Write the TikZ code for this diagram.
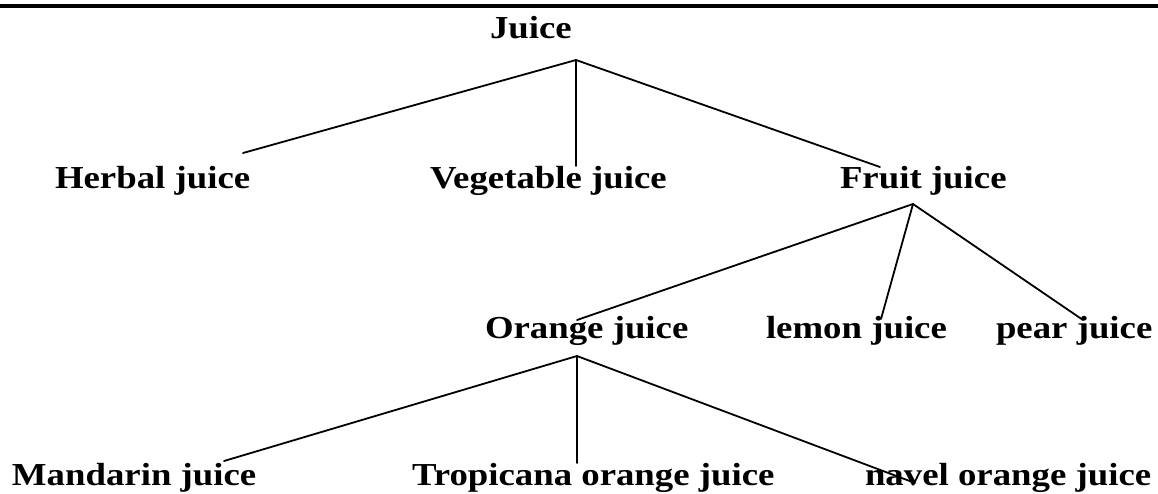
\documentclass[tikz,border=0pt]{standalone}
\usepackage{fontspec}
\usepackage{graphicx}
\setmainfont{Liberation Serif}
\newcommand{\lbl}[1]{\scalebox{1.15}[1]{\fontsize{32pt}{36pt}\selectfont\bfseries #1}}
\tikzset{
  lab/.style={anchor=base west, inner sep=0pt, outer sep=0pt, font=\fontsize{32pt}{36pt}\selectfont\bfseries},
  edge/.style={line width=1.8pt, line cap=round},
  rule/.style={line width=4.5pt}
}
\begin{document}
\begin{tikzpicture}[x=1pt,y=-1pt]
\useasboundingbox (0,0) rectangle (1158,493);
\coordinate (ruleL) at (0,6);
\coordinate (ruleR) at (1158,6);
\draw[rule] (ruleL) -- (ruleR);
% labels
\node[lab] (juice) at (490,38) {\lbl{Juice}};
\node[lab] (herbal) at (55,188) {\lbl{Herbal juice}};
\node[lab] (veg) at (430,188) {\lbl{Vegetable juice}};
\node[lab] (fruit) at (840,188) {\lbl{Fruit juice}};
\node[lab] (orange) at (485,338) {\lbl{Orange juice}};
\node[lab] (lemon) at (766,338) {\lbl{lemon juice}};
\node[lab] (pear) at (996,338) {\lbl{pear juice}};
\node[lab] (mandarin) at (12,485) {\lbl{Mandarin juice}};
\node[lab] (tropicana) at (412,485) {\lbl{Tropicana orange juice}};
\node[lab] (navel) at (865,485) {\lbl{navel orange juice}};
% connector ends
\coordinate (juiceA) at (576,60);
\coordinate (herbalT) at (243,153);
\coordinate (vegT) at (576,166);
\coordinate (fruitT) at (880,167);
\coordinate (fruitA) at (913,204);
\coordinate (orangeT) at (577,320);
\coordinate (lemonT) at (881,319);
\coordinate (pearT) at (1083,320);
\coordinate (orangeA) at (577,356);
\coordinate (mandarinT) at (224,461);
\coordinate (tropicanaT) at (577,463);
\coordinate (navelT) at (915,483);
% connectors
\draw[edge] (juiceA) -- (herbalT);
\draw[edge] (juiceA) -- (vegT);
\draw[edge] (juiceA) -- (fruitT);
\draw[edge] (fruitA) -- (orangeT);
\draw[edge] (fruitA) -- (lemonT);
\draw[edge] (fruitA) -- (pearT);
\draw[edge] (orangeA) -- (mandarinT);
\draw[edge] (orangeA) -- (tropicanaT);
\draw[edge] (orangeA) -- (navelT);
\end{tikzpicture}
\end{document}
